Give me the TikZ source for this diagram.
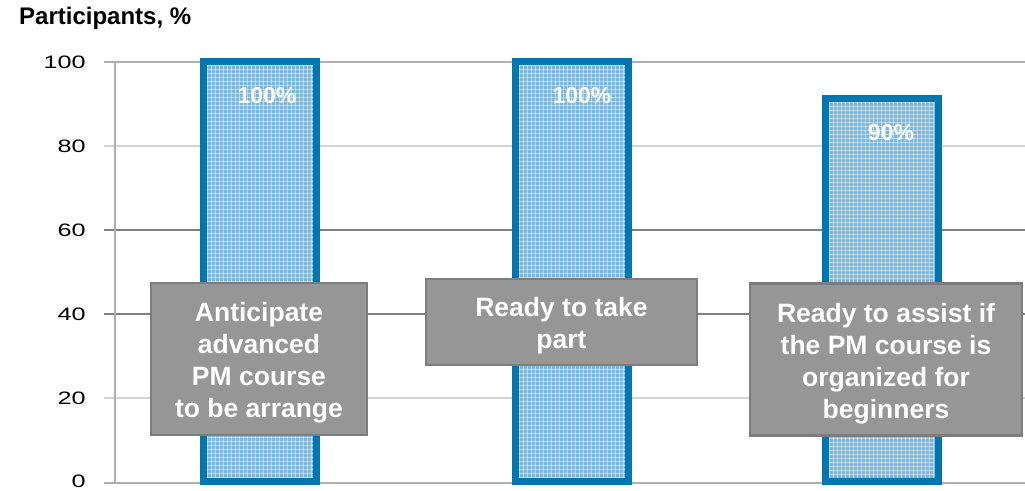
\documentclass[tikz,border=0pt]{standalone}
\usepackage{fontspec}
\setmainfont{Liberation Sans}
\definecolor{barblue}{RGB}{0,118,176}
\definecolor{barfill}{RGB}{112,176,218}
\definecolor{boxfill}{RGB}{150,150,150}
\definecolor{boxline}{RGB}{125,125,125}
\definecolor{gridlight}{RGB}{212,212,212}
\definecolor{griddark}{RGB}{128,128,128}
\definecolor{gridmid}{RGB}{176,176,176}
\tikzset{
  ticklabel/.style={anchor=east, inner sep=0pt, font=\fontsize{18}{18}\selectfont, xscale=1.4},
  barlabel/.style={text=white, inner sep=0pt, font=\bfseries\fontsize{23}{23}\selectfont},
  callout/.style={draw=boxline, line width=2.5pt, fill=boxfill, text=white, align=center,
     inner sep=0pt, font=\bfseries\fontsize{26.5}{32}\selectfont},
  barbody/.style={fill=barfill, fill opacity=0.92},
  hatchline/.style={white, line width=0.9pt, opacity=0.45},
  barframe/.style={draw=barblue, line width=7pt},
}
\newcommand{\topstrut}{\rule{0pt}{27pt}}
\begin{document}
\begin{tikzpicture}[x=1pt,y=-1pt]
\useasboundingbox (0,0) rectangle (1025,490);
% title
\node[anchor=west, inner sep=0pt, font=\bfseries\fontsize{24}{24}\selectfont] (title) at (19,18) {Participants, \%};
% grid
\draw[gridmid, line width=2pt] (104,62) -- (1025,62);
\draw[gridlight, line width=2pt] (104,146) -- (1025,146);
\draw[griddark, line width=2pt] (104,230) -- (1025,230);
\draw[griddark, line width=2pt] (104,314) -- (1025,314);
\draw[gridlight, line width=2pt] (104,398) -- (1025,398);
\draw[gridmid, line width=2.5pt] (104,483) -- (1025,483);
\draw[gridmid, line width=2pt] (115,62) -- (115,483);
% tick labels
\node[ticklabel] (t100) at (86,62) {100};
\node[ticklabel] (t80) at (86,146) {80};
\node[ticklabel] (t60) at (86,230) {60};
\node[ticklabel] (t40) at (86,314) {40};
\node[ticklabel] (t20) at (86,398) {20};
\node[ticklabel] (t0) at (86,481.5) {0};
% bars
\foreach \xa/\xb/\yt in {203.5/316.5/61.5, 515.5/628.5/61.5, 825.5/938.5/98.5}{
  \fill[barbody] (\xa,\yt) rectangle (\xb,481.5);
  \begin{scope}
    \clip (\xa,\yt) rectangle (\xb,481.5);
    \foreach \gx in {0,4,...,116} \draw[hatchline] (\xa+\gx,\yt) -- (\xa+\gx,481.5);
    \foreach \gy in {0,4,...,420} \draw[hatchline] (\xa,\yt+\gy) -- (\xb,\yt+\gy);
  \end{scope}
  \draw[barframe] (\xa,\yt) rectangle (\xb,481.5);
}
\node[barlabel] (l1) at (267,96) {100\%};
\node[barlabel] (l2) at (582,96) {100\%};
\node[barlabel] (l3) at (891,133) {90\%};
% callouts
\node[callout, minimum width=216pt, minimum height=152pt] (c1) at (259,359)
  {\topstrut Anticipate\\advanced\\PM course\\to be arrange};
\node[callout, minimum width=271pt, minimum height=86pt] (c2) at (561.5,322)
  {\topstrut Ready to take\\part};
\node[callout, minimum width=272pt, minimum height=152pt] (c3) at (886,359.5)
  {\topstrut Ready to assist if\\the PM course is\\organized for\\beginners};
\end{tikzpicture}
\end{document}
